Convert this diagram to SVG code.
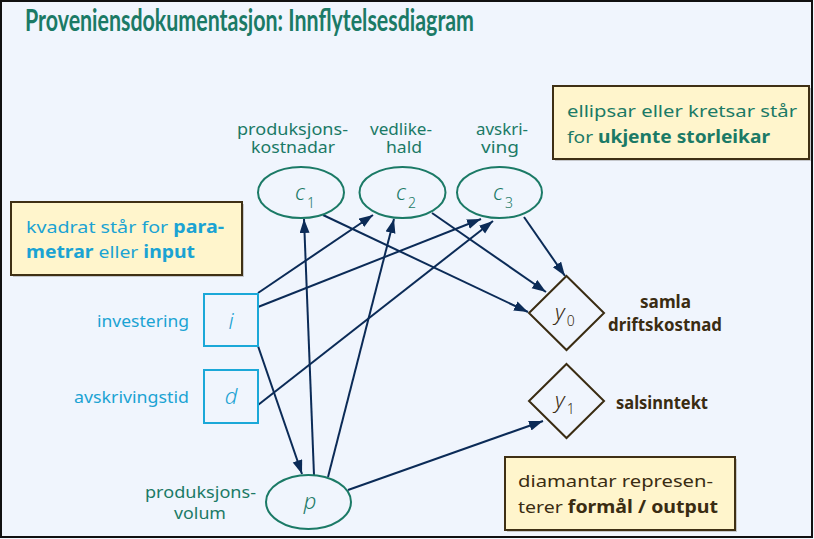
<svg xmlns="http://www.w3.org/2000/svg" width="814" height="539" viewBox="0 0 814 539">
<defs>
<marker id="arr" markerUnits="userSpaceOnUse" markerWidth="15" markerHeight="11" refX="14" refY="5" orient="auto">
<path d="M0,0 L14,5 L0,10 z" fill="#0b2b57"/>
</marker>
<style>
text{font-family:"Noto Sans","Open Sans","Liberation Sans",sans-serif}
.title{font-family:Lato,"Noto Sans",sans-serif}
.teal{fill:#1b7a66}
.cyan{fill:#1ba3d3}
.brown{fill:#3a2c12}
.lbl{font-size:17px}
.ell{fill:none;stroke:#1b7a66;stroke-width:2}
.sq{fill:none;stroke:#1ba8d8;stroke-width:2}
.dia{fill:none;stroke:#3a2c12;stroke-width:2}
.var{font-style:italic;font-size:22px;font-weight:300}
.sub{font-size:14px;font-style:normal}
.note{fill:#fff5cc;stroke:#3f3014;stroke-width:2}
.shadow{fill:#9a9a9a;opacity:0.5}
.conn line{stroke:#0b2b57;stroke-width:2;marker-end:url(#arr)}
</style>
</defs>
<rect x="0" y="0" width="814" height="539" fill="#f0f5fd"/>
<rect x="1" y="1" width="811" height="536" fill="none" stroke="#111" stroke-width="2"/>

<text x="25" y="31" font-size="30" font-weight="700" class="title teal" textLength="449" lengthAdjust="spacingAndGlyphs">Proveniensdokumentasjon: Innflytelsesdiagram</text>

<g id="note-ellipses">
<rect class="shadow" x="555" y="88" width="256" height="73"/>
<rect class="note" x="553" y="86" width="256" height="73"/>
<text x="567" y="117" class="teal lbl" textLength="230" lengthAdjust="spacingAndGlyphs">ellipsar eller kretsar står</text>
<text x="567" y="143" class="teal lbl" textLength="203" lengthAdjust="spacingAndGlyphs">for <tspan font-weight="700">ukjente storleikar</tspan></text>
</g>

<g id="note-squares">
<rect class="shadow" x="13" y="204" width="231" height="73"/>
<rect class="note" x="11" y="202" width="231" height="73"/>
<text x="26" y="233" class="cyan lbl" textLength="198" lengthAdjust="spacingAndGlyphs">kvadrat står for <tspan font-weight="700">para-</tspan></text>
<text x="26" y="258" class="cyan lbl" textLength="169" lengthAdjust="spacingAndGlyphs"><tspan font-weight="700">metrar</tspan> eller <tspan font-weight="700">input</tspan></text>
</g>

<g id="note-diamonds">
<rect class="shadow" x="507" y="459" width="230" height="73"/>
<rect class="note" x="505" y="457" width="230" height="73"/>
<text x="518" y="487" class="brown lbl" textLength="195" lengthAdjust="spacingAndGlyphs">diamantar represen-</text>
<text x="518" y="513" class="brown lbl" textLength="200" lengthAdjust="spacingAndGlyphs">terer <tspan font-weight="700">formål / output</tspan></text>
</g>

<g class="conn" id="connectors">
<line x1="323" y1="215" x2="528" y2="312"/>
<line x1="258" y1="293" x2="373" y2="215"/>
<line x1="258" y1="307" x2="481" y2="219"/>
<line x1="258" y1="405" x2="493" y2="221"/>
<line x1="432" y1="213" x2="546" y2="292"/>
<line x1="524" y1="217" x2="565" y2="276"/>
<line x1="314" y1="475" x2="304" y2="219"/>
<line x1="328" y1="477" x2="394" y2="219"/>
<line x1="258" y1="346" x2="302" y2="474"/>
<line x1="348" y1="490" x2="543" y2="421"/>
</g>

<g id="node-c1">
<text x="237" y="135" class="teal lbl" textLength="111" lengthAdjust="spacingAndGlyphs">produksjons-</text>
<text x="251" y="153" class="teal lbl" textLength="84" lengthAdjust="spacingAndGlyphs">kostnadar</text>
<ellipse class="ell" cx="301" cy="192.5" rx="43" ry="25.5"/>
<text x="295" y="200" class="teal var">c<tspan class="sub" dx="2" dy="8">1</tspan></text>
</g>
<g id="node-c2">
<text x="370" y="135" class="teal lbl" textLength="62" lengthAdjust="spacingAndGlyphs">vedlike-</text>
<text x="386" y="153" class="teal lbl" textLength="36" lengthAdjust="spacingAndGlyphs">hald</text>
<ellipse class="ell" cx="402.5" cy="192.5" rx="43" ry="25.5"/>
<text x="396" y="200" class="teal var">c<tspan class="sub" dx="2" dy="8">2</tspan></text>
</g>
<g id="node-c3">
<text x="476" y="135" class="teal lbl" textLength="52" lengthAdjust="spacingAndGlyphs">avskri-</text>
<text x="481" y="153" class="teal lbl" textLength="38" lengthAdjust="spacingAndGlyphs">ving</text>
<ellipse class="ell" cx="499.5" cy="192.5" rx="42.5" ry="25.5"/>
<text x="493" y="200" class="teal var">c<tspan class="sub" dx="2" dy="8">3</tspan></text>
</g>

<g id="node-i">
<text x="97" y="327" class="cyan" font-size="16" textLength="92" lengthAdjust="spacingAndGlyphs">investering</text>
<rect class="sq" x="204" y="294" width="54" height="52"/>
<text x="231" y="329" text-anchor="middle" class="cyan var" font-size="24">i</text>
</g>
<g id="node-d">
<text x="74" y="403" class="cyan" font-size="16" textLength="115" lengthAdjust="spacingAndGlyphs">avskrivingstid</text>
<rect class="sq" x="204" y="370" width="54" height="53"/>
<text x="231" y="404" text-anchor="middle" class="cyan var" font-size="24">d</text>
</g>

<g id="node-p">
<text x="145" y="498" class="teal" font-size="16" textLength="111" lengthAdjust="spacingAndGlyphs">produksjons-</text>
<text x="174" y="519" class="teal" font-size="16" textLength="52" lengthAdjust="spacingAndGlyphs">volum</text>
<ellipse class="ell" cx="308.5" cy="502" rx="42.5" ry="27"/>
<text x="310" y="509" text-anchor="middle" class="teal var">p</text>
</g>

<g id="node-y0">
<polygon class="dia" points="566.5,276 604,313 566.5,350 529,313"/>
<text x="555" y="320" class="brown var">y<tspan class="sub" dx="2" dy="6">0</tspan></text>
<text x="640" y="308" class="brown lbl" font-weight="700" textLength="51" lengthAdjust="spacingAndGlyphs">samla</text>
<text x="608" y="331" class="brown lbl" font-weight="700" textLength="114" lengthAdjust="spacingAndGlyphs">driftskostnad</text>
</g>
<g id="node-y1">
<polygon class="dia" points="566.5,364 604,401 566.5,438 529,401"/>
<text x="555" y="408" class="brown var">y<tspan class="sub" dx="2" dy="6">1</tspan></text>
<text x="616" y="409" class="brown lbl" font-weight="700" textLength="92" lengthAdjust="spacingAndGlyphs">salsinntekt</text>
</g>
</svg>
